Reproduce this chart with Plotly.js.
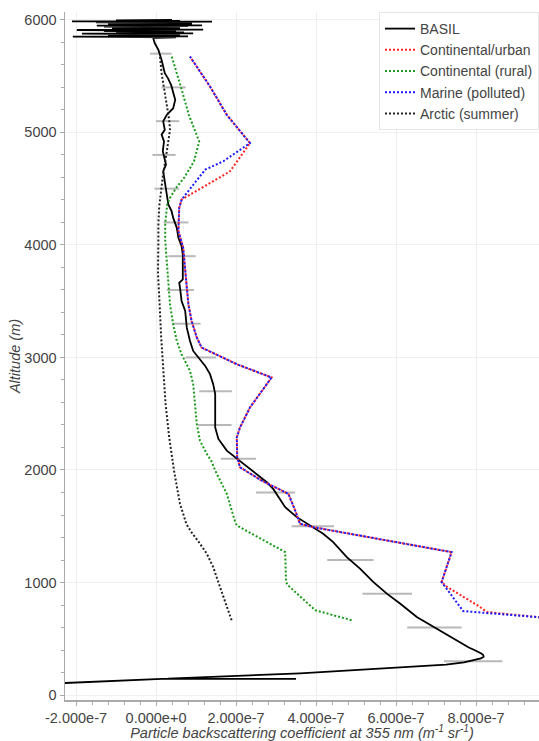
<!DOCTYPE html>
<html>
<head>
<meta charset="utf-8">
<script src="https://cdn.plot.ly/plotly-3.0.1.min.js"></script>
<style>
  html, body { margin: 0; padding: 0; background: #fff; }
  #chart { width: 539px; height: 741px; }
</style>
</head>
<body>
<div id="chart"></div>
<script>
// All backscatter values below are in units of 1e-7 m^-1 sr^-1
const UNIT = 1e-7;

// BASIL profile (altitude in m)
const basilAlt = [102, 144, 143, 146, 193, 228, 251, 270, 290, 310, 325, 340, 355, 370, 384, 400, 422, 473, 576, 694, 813, 901, 1005, 1123, 1226,
  1359, 1433, 1507, 1581, 1669, 1758, 1832, 1891, 1965, 2039, 2083, 2172, 2276, 2378, 2467, 2585, 2674, 2763, 2852, 2925,
  2999, 3058, 3147, 3265, 3413, 3502, 3620, 3664, 3694, 3797, 3915, 3989, 4063, 4152, 4240, 4300, 4358, 4447, 4566, 4654,
  4713, 4832, 4920, 4980, 5023, 5098, 5156, 5215, 5289, 5363, 5420, 5480, 5526, 5643, 5733, 5792, 5837,
  5845, 5851, 5853, 5858, 5862, 5866, 5870, 5875, 5878, 5880, 5884, 5888, 5892, 5896, 5900, 5905, 5910, 5913, 5917, 5921,
  5925, 5929, 5933, 5937, 5941, 5945, 5949, 5951, 5955, 5959, 5963, 5967, 5971, 5975, 5979, 5984, 5986, 5990, 5995, 6000];
const basilX = [-2.6, 0.15, 3.5, 0.3, 3.6, 5.27, 6.6, 7.25, 7.7, 7.98, 8.12, 8.19, 8.18, 8.13, 8.06, 7.96, 7.82, 7.58, 7.1, 6.52, 6.1, 5.77, 5.43, 5.1, 4.77,
  4.43, 4.18, 3.85, 3.52, 3.23, 3.06, 2.93, 2.77, 2.5, 2.23, 2.1, 1.77, 1.56, 1.48, 1.48, 1.48, 1.48, 1.43, 1.35, 1.23,
  1.06, 0.93, 0.85, 0.77, 0.73, 0.64, 0.6, 0.58, 0.67, 0.67, 0.67, 0.64, 0.56, 0.52, 0.43, 0.39, 0.31, 0.27, 0.22, 0.18,
  0.25, 0.17, 0.2, 0.14, 0.22, 0.18, 0.27, 0.43, 0.48, 0.43, 0.38, 0.3, 0.22, 0.14, 0.06, -0.03, -0.07,
  0.5, -2.08, 0.8, -0.5, 0.4, -1.2, 0.6, -0.8, -1.85, 0.93, -0.3, 0.7, -1.0, 0.5, -1.3, 0.3, -1.98, 1.18, -0.6, 0.4,
  -1.1, 0.6, -0.9, 0.2, -1.3, 0.8, -1.48, 1.15, -0.7, 0.5, -1.2, 0.9, -1.0, 0.7, -1.5, 1.4, -2.1, 0.6, -1.0, 0.4];

// BASIL error bars
const errAlt = [300, 600, 900, 1200, 1500, 1800, 2100, 2400, 2700, 3000, 3300, 3600, 3900, 4200, 4500, 4800, 5100, 5400, 5700];
const errX = [7.93, 6.96, 5.78, 4.86, 3.92, 2.99, 2.06, 1.47, 1.49, 1.12, 0.76, 0.61, 0.65, 0.50, 0.27, 0.20, 0.29, 0.44, 0.12];
const errHalf = [0.73, 0.68, 0.62, 0.58, 0.53, 0.49, 0.44, 0.42, 0.41, 0.38, 0.355, 0.34, 0.34, 0.31, 0.31, 0.29, 0.29, 0.30, 0.27];

// Continental/urban
const urbanAlt = [665, 738, 783, 963, 1005, 1270, 1492, 1522, 1640, 1788, 1906, 2024, 2113, 2290, 2378, 2556, 2822, 2940,
  3088, 3177, 3324, 3472, 3700, 3975, 4122, 4329, 4403, 4536, 4654, 4905, 5156, 5408, 5674];
const urbanX = [10.3, 8.27, 8.1, 7.27, 7.14, 7.39, 3.93, 3.6, 3.48, 3.31, 2.64, 2.1, 2.03, 2.02, 2.1, 2.35, 2.89, 2.02,
  1.14, 1.02, 0.89, 0.81, 0.75, 0.68, 0.56, 0.58, 0.64, 1.27, 1.85, 2.35, 1.77, 1.35, 0.85];

// Continental (rural)
const ruralAlt = [665, 754, 975, 1005, 1270, 1507, 1537, 1788, 1995, 2083, 2143, 2260, 2408, 2585, 2763, 2881, 3028, 3147,
  3295, 3472, 3768, 4044, 4192, 4358, 4418, 4506, 4595, 4743, 4920, 5156, 5408, 5690];
const ruralX = [4.89, 3.98, 3.3, 3.25, 3.23, 2.02, 1.98, 1.77, 1.48, 1.38, 1.27, 1.1, 1.02, 0.98, 0.93, 0.85, 0.64, 0.52,
  0.43, 0.35, 0.28, 0.23, 0.23, 0.28, 0.35, 0.5, 0.7, 0.95, 1.08, 0.82, 0.62, 0.38];

// Marine (polluted)
const marineAlt = [665, 746, 1005, 1270, 1492, 1522, 1640, 1788, 1906, 2024, 2113, 2290, 2378, 2556, 2822, 2940, 3088, 3177,
  3324, 3472, 3700, 3975, 4122, 4329, 4403, 4536, 4669, 4743, 4905, 5156, 5408, 5674];
const marineX = [10.5, 7.68, 7.14, 7.39, 3.93, 3.6, 3.48, 3.31, 2.64, 2.1, 2.03, 2.02, 2.1, 2.35, 2.89, 2.02, 1.14, 1.02,
  0.89, 0.81, 0.75, 0.68, 0.56, 0.58, 0.64, 0.93, 1.23, 1.68, 2.35, 1.77, 1.35, 0.85];

// Arctic (summer)
const arcticAlt = [665, 783, 960, 1137, 1256, 1345, 1450, 1520, 1700, 1995, 2290, 2585, 2881, 3177, 3472, 3748, 4044, 4192,
  4340, 4489, 4637, 4785, 4933, 5022, 5111, 5230, 5378, 5526, 5674];
const arcticX = [1.89, 1.77, 1.6, 1.43, 1.27, 1.1, 0.88, 0.76, 0.6, 0.45, 0.33, 0.24, 0.18, 0.13, 0.09, 0.05, 0.06, 0.06,
  0.08, 0.13, 0.18, 0.25, 0.31, 0.35, 0.33, 0.28, 0.22, 0.14, 0.1];

// X tick values (in units of 1e-7) and labels
const xTickVals = [-2, 0, 2, 4, 6, 8];
const xTickText = ['-2.000e-7', '0.000e+0', '2.000e-7', '4.000e-7', '6.000e-7', '8.000e-7'];

const seriesNames = ['BASIL', 'Continental/urban', 'Continental (rural)', 'Marine (polluted)', 'Arctic (summer)'];
const seriesColors = ['#000000', '#ff2020', '#1a9a1a', '#1a1aff', '#222222'];

const sc = a => a.map(v => v * UNIT);
const dotted = (name, color, xs, ys) => ({
  type: 'scatter', mode: 'lines', name: name,
  x: sc(xs), y: ys,
  line: { color: color, width: 2, dash: '2px,2px' }
});

const traces = [
  {
    type: 'scatter', mode: 'markers', showlegend: false, hoverinfo: 'skip',
    x: sc(errX), y: errAlt,
    marker: { size: 1, opacity: 0 },
    error_x: { type: 'data', array: sc(errHalf), visible: true, color: '#b8b8b8', thickness: 2, width: 0 }
  },
  {
    type: 'scatter', mode: 'lines', name: seriesNames[0],
    x: sc(basilX), y: basilAlt,
    line: { color: seriesColors[0], width: 1.8 }
  },
  dotted(seriesNames[1], seriesColors[1], urbanX, urbanAlt),
  dotted(seriesNames[2], seriesColors[2], ruralX, ruralAlt),
  dotted(seriesNames[3], seriesColors[3], marineX, marineAlt),
  dotted(seriesNames[4], seriesColors[4], arcticX, arcticAlt)
];

const FONT = 'Liberation Sans, Arial, Helvetica, sans-serif';
const layout = {
  width: 539, height: 741,
  margin: { l: 65, r: 0, t: 12, b: 41 },
  paper_bgcolor: '#fff', plot_bgcolor: '#fff',
  font: { family: FONT, color: '#444', size: 14.5 },
  showlegend: true,
  legend: {
    x: 1, y: 1, xanchor: 'right', yanchor: 'top',
    bgcolor: '#fff', bordercolor: '#e6e6e6', borderwidth: 1,
    font: { family: FONT, size: 14, color: '#444' },
    tracegroupgap: 0, itemwidth: 30
  },
  xaxis: {
    range: [-2.275e-7, 9.575e-7],
    tickmode: 'array', tickvals: sc(xTickVals), ticktext: xTickText,
    showline: true, linecolor: '#aaa', linewidth: 1.5,
    ticks: 'outside', ticklen: 4, tickcolor: '#aaa',
    showgrid: true, gridcolor: '#eeeeee', zeroline: false,
    minor: { dtick: 4e-8, tick0: 0, ticks: 'outside', ticklen: 3, tickcolor: '#aaa', showgrid: false },
    tickfont: { family: FONT, size: 14.5, color: '#444' },
    title: { text: '<i>Particle backscattering coefficient at 355 nm (m<sup>-1</sup> sr<sup>-1</sup>)</i>',
             font: { family: FONT, size: 14.5, color: '#444' }, standoff: 4 }
  },
  yaxis: {
    range: [-44, 6070],
    tick0: 0, dtick: 1000,
    showline: true, linecolor: '#aaa', linewidth: 1.5,
    ticks: 'outside', ticklen: 4, tickcolor: '#aaa',
    showgrid: true, gridcolor: '#f0f0f0', zeroline: false,
    minor: { dtick: 200, tick0: 0, ticks: 'outside', ticklen: 3, tickcolor: '#aaa', showgrid: false },
    tickfont: { family: FONT, size: 14.5, color: '#444' },
    title: { text: '<i>Altitude (m)</i>', font: { family: FONT, size: 14.5, color: '#444' }, standoff: 0 }
  }
};

Plotly.newPlot('chart', traces, layout, { displayModeBar: false, staticPlot: true });
</script>
</body>
</html>
